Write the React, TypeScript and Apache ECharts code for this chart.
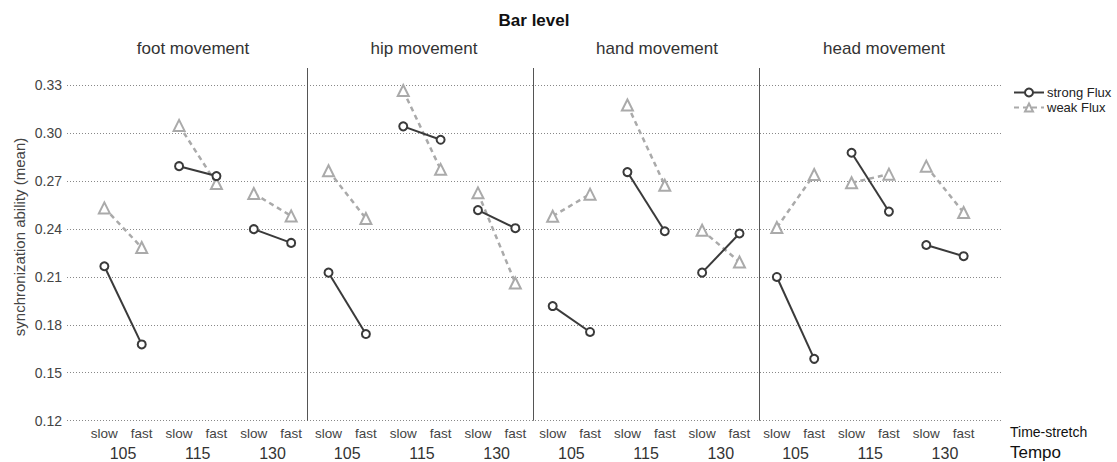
import React, { useEffect, useRef } from 'react';
import * as echarts from 'echarts';

const movements = ['foot movement', 'hip movement', 'hand movement', 'head movement'];
const tempos = ['105', '115', '130'];
const timeStretch = ['slow', 'fast'];

// order: movement -> tempo -> time-stretch (slow, fast)
const strongFlux = [
  0.2166, 0.1677, 0.2792, 0.2730, 0.2398, 0.2312,
  0.2126, 0.1742, 0.3041, 0.2957, 0.2517, 0.2404,
  0.1917, 0.1755, 0.2755, 0.2385, 0.2126, 0.2371,
  0.2099, 0.1587, 0.2876, 0.2508, 0.2299, 0.2229,
];
const weakFlux = [
  0.2531, 0.2283, 0.3047, 0.2684, 0.2621, 0.2481,
  0.2763, 0.2465, 0.3265, 0.2772, 0.2625, 0.2061,
  0.2479, 0.2617, 0.3175, 0.2673, 0.2391, 0.2193,
  0.2408, 0.2740, 0.2688, 0.2742, 0.2792, 0.2502,
];
const yMin = 0.12;
const yStep = 0.03;
const yMax = 0.3406;

const FONT = '"Liberation Sans", Arial, Helvetica, sans-serif';
const panelTitleX = [193, 424, 657, 884];
const separators = [6.44, 12.49, 18.54];

export default function App() {
  const ref = useRef<HTMLDivElement>(null);
  useEffect(() => {
    document.body.style.margin = '0';
    const chart = echarts.init(ref.current!, undefined, { renderer: 'svg' });
    const nPos = movements.length * tempos.length * timeStretch.length;
    const series: any[] = [];
    const groups = movements.length * tempos.length;
    for (let g = 0; g < groups; g++) {
      const a = 2 * g;
      series.push({
        name: 'weak Flux',
        type: 'line',
        z: 2,
        data: [[a + 1, weakFlux[a]], [a + 2, weakFlux[a + 1]]],
        symbol: 'emptyTriangle',
        symbolSize: 11,
        lineStyle: { color: '#aaaaaa', width: 2.5, type: [5, 4] },
        itemStyle: { color: '#aaaaaa', borderWidth: 2 },
        silent: true,
      });
    }
    for (let g = 0; g < groups; g++) {
      const a = 2 * g;
      const s: any = {
        name: 'strong Flux',
        type: 'line',
        z: 3,
        data: [[a + 1, strongFlux[a]], [a + 2, strongFlux[a + 1]]],
        symbol: 'emptyCircle',
        symbolSize: 8,
        lineStyle: { color: '#3a3a3a', width: 2 },
        itemStyle: { color: '#3a3a3a', borderWidth: 2 },
        silent: true,
      };
      if (g === 0) {
        s.markLine = {
          silent: true,
          symbol: ['none', 'none'],
          label: { show: false },
          lineStyle: { color: '#555', width: 1, type: 'solid' },
          data: separators.map((x) => ({ xAxis: x })),
        };
      }
      series.push(s);
    }

    const option: any = {
      animation: false,
      textStyle: { fontFamily: FONT },
      grid: { left: 67, right: 116, top: 68, bottom: 41.3, containLabel: false },
      legend: {
        data: ['strong Flux', 'weak Flux'],
        orient: 'vertical',
        left: 1013,
        top: 86,
        itemWidth: 30,
        itemHeight: 10,
        itemGap: 2,
        padding: 0,
        textStyle: { fontFamily: FONT, fontSize: 13, color: '#222', padding: [0, 0, 0, -2] },
        selectedMode: false,
      },
      xAxis: {
        type: 'value',
        min: 0,
        max: nPos + 1,
        interval: 1,
        axisLine: { show: false },
        axisTick: { show: false },
        splitLine: { show: false },
        axisLabel: {
          margin: 6,
          fontFamily: FONT,
          fontSize: 13.5,
          color: '#444',
          formatter: (v: number) => {
            if (v < 1 || v > nPos) return '';
            return timeStretch[(Math.round(v) - 1) % 2];
          },
        },
      },
      yAxis: {
        type: 'value',
        min: yMin,
        max: yMax,
        interval: yStep,
        axisLine: { show: false },
        axisTick: { show: false },
        axisLabel: {
          showMaxLabel: false,
          margin: 5,
          fontFamily: FONT,
          fontSize: 14,
          color: '#444',
          formatter: (v: number) => v.toFixed(2),
        },
        splitLine: {
          show: true,
          showMaxLine: false,
          lineStyle: { color: '#888', width: 1, type: [1, 2] },
        },
      },
      series,
    };
    chart.setOption(option);

    const graphics: any[] = [];
    const center = { textAlign: 'center', align: 'center', textVerticalAlign: 'middle', verticalAlign: 'middle' };
    graphics.push({
      type: 'text',
      x: 534,
      y: 20,
      style: { text: 'Bar level', font: `bold 17px ${FONT}`, fill: '#111', ...center },
    });
    graphics.push({
      type: 'text',
      x: 19,
      y: 237,
      rotation: Math.PI / 2,
      style: { text: 'synchronization ability (mean)', font: `15px ${FONT}`, fill: '#444', ...center },
    });
    movements.forEach((m, i) => {
      graphics.push({
        type: 'text',
        x: panelTitleX[i],
        y: 48,
        style: { text: m, font: `17px ${FONT}`, fill: '#333', ...center },
      });
    });
    for (let g = 0; g < groups; g++) {
      const px = chart.convertToPixel({ xAxisIndex: 0 }, 2 * g + 1.5) as number;
      graphics.push({
        type: 'text',
        x: px,
        y: 453,
        style: { text: tempos[g % tempos.length], font: `16px ${FONT}`, fill: '#333', ...center },
      });
    }
    graphics.push({
      type: 'text',
      x: 1010,
      y: 432,
      style: { text: 'Time-stretch', font: `14px ${FONT}`, fill: '#111', textVerticalAlign: 'middle', verticalAlign: 'middle' },
    });
    graphics.push({
      type: 'text',
      x: 1010,
      y: 452,
      style: { text: 'Tempo', font: `17px ${FONT}`, fill: '#111', textVerticalAlign: 'middle', verticalAlign: 'middle' },
    });
    chart.setOption({ graphic: graphics });

    return () => chart.dispose();
  }, []);
  return <div ref={ref} style={{ width: 1117, height: 462 }} />;
}
